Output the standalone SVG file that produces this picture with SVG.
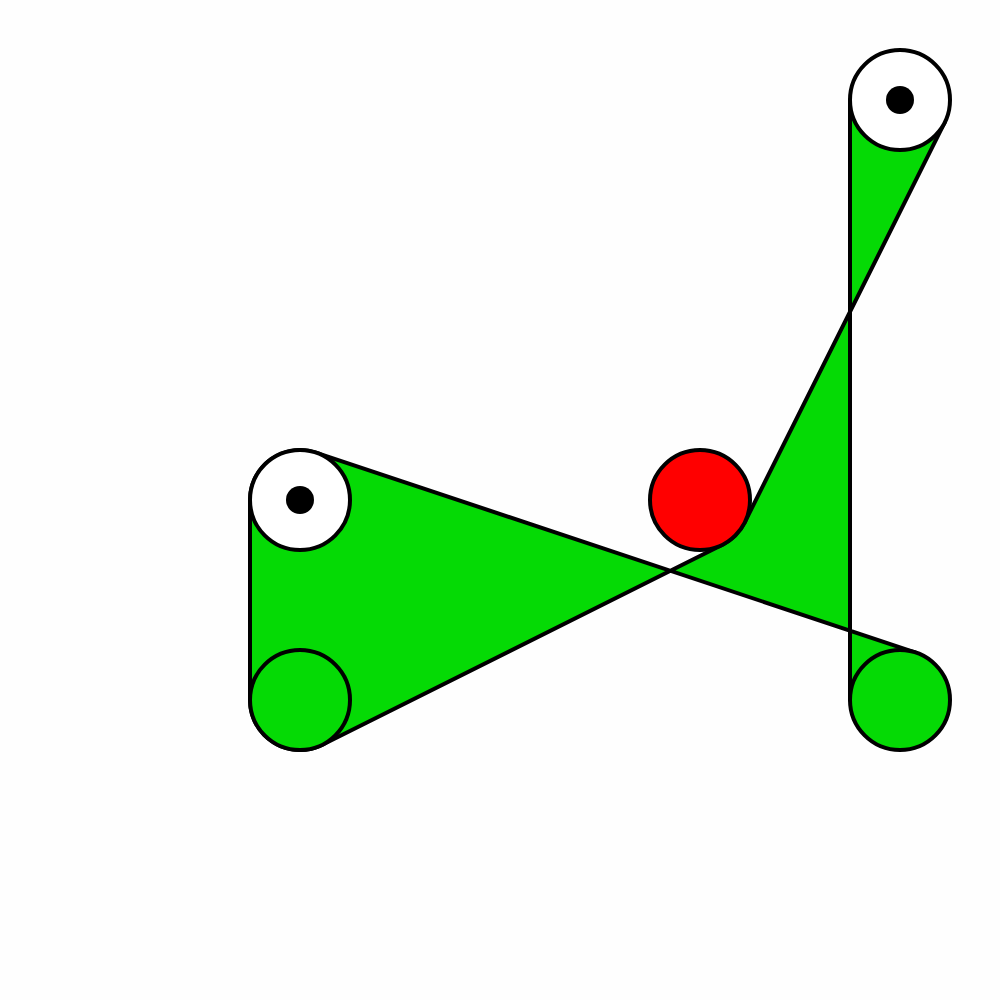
<svg xmlns="http://www.w3.org/2000/svg" width="1000" height="1000" viewBox="0 0 1000 1000">
<style>
.belt{fill:#05da05;stroke:#000;stroke-width:4;stroke-linejoin:round}
.p{stroke:#000;stroke-width:4}
.dot{fill:#000}
</style>
<rect width="1000" height="1000" fill="#fefefe"/>
<g id="connectors">
<path class="belt" d="M850,100 L850,700 A50,50 0 0 0 915.8,652.6 L315.8,452.6 A50,50 0 0 0 250,500 L250,700 A50,50 0 0 0 322.4,744.7 L722.4,544.7 A50,50 0 0 0 744.7,522.4 L944.7,122.4 A50,50 0 0 0 850,100 Z"/>
</g>
<g id="pulley-top"><circle class="p" cx="900" cy="100" r="50" fill="#fff"/><circle class="dot" cx="900" cy="100" r="14"/></g>
<g id="pulley-left"><circle class="p" cx="300" cy="500" r="50" fill="#fff"/><circle class="dot" cx="300" cy="500" r="14"/></g>
<g id="pulley-bottom-left"><circle class="p" cx="300" cy="700" r="50" fill="#05da05"/></g>
<g id="pulley-bottom-right"><circle class="p" cx="900" cy="700" r="50" fill="#05da05"/></g>
<g id="idler"><circle class="p" cx="700" cy="500" r="50" fill="#ff0000"/></g>
</svg>
